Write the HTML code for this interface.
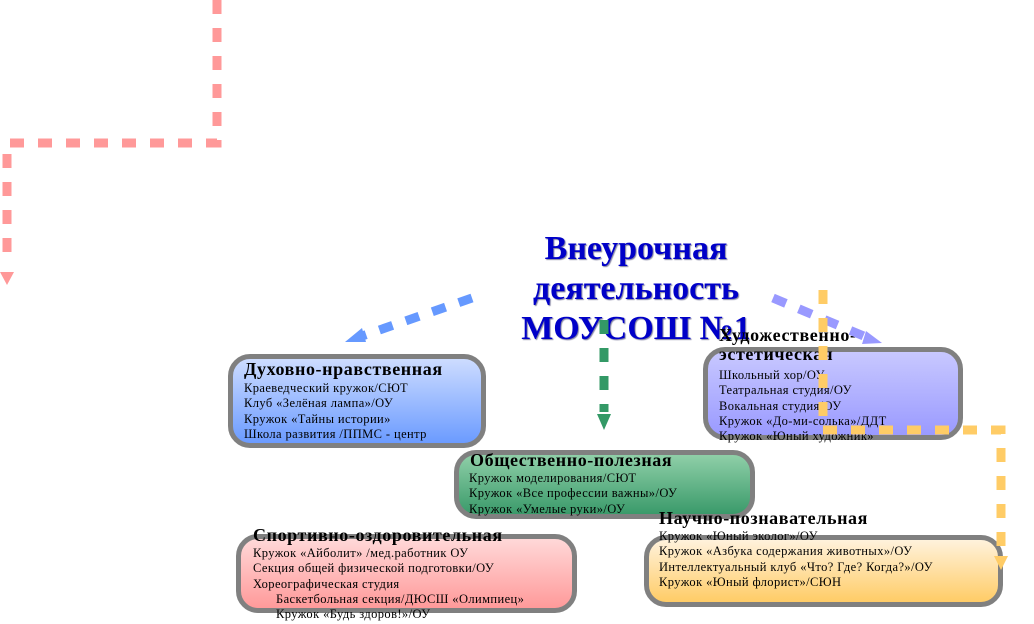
<!DOCTYPE html>
<html><head><meta charset="utf-8"><style>
body{margin:0;width:1034px;height:624px;background:#fff;position:relative;overflow:hidden;font-family:"Liberation Serif","DejaVu Serif",serif;}
.box{position:absolute;border:5px solid #808080;border-radius:22px;box-sizing:border-box;}
.t{position:absolute;white-space:nowrap;color:#000;}
.h{font-weight:bold;font-size:18px;letter-spacing:0.6px;}
.i{font-size:12.5px;line-height:15.3px;letter-spacing:0.4px;}
.title{position:absolute;left:436px;width:400px;text-align:center;color:#0000c8;font-weight:bold;font-size:34px;line-height:40px;top:229px;text-shadow:1px 1px 1px #8080a0;}
svg{position:absolute;left:0;top:0;}
</style></head><body>
<div class="box" style="left:228px;top:354px;width:258px;height:94px;background:linear-gradient(#cddcff,#6b9bff);"></div>
<div class="box" style="left:703px;top:347px;width:260px;height:93px;background:linear-gradient(#c8c8ff,#9a9aff);"></div>
<div class="box" style="left:454px;top:450px;width:301px;height:69px;background:linear-gradient(#8fcfa8,#3a9a6a);"></div>
<div class="box" style="left:236px;top:534px;width:341px;height:79px;background:linear-gradient(#ffd8d8,#ff9a9a);"></div>
<div class="box" style="left:644px;top:535px;width:359px;height:72px;background:linear-gradient(#fff2dc,#ffcc66);"></div>

<div class="title">Внеурочная<br>деятельность<br>МОУСОШ №1</div>

<div class="t h" style="left:244px;top:359px;">Духовно-нравственная</div>
<div class="t i" style="left:244px;top:381px;">Краеведческий кружок/СЮТ<br>Клуб «Зелёная лампа»/ОУ<br>Кружок «Тайны истории»<br>Школа развития /ППМС - центр</div>

<div class="t h" style="left:719px;top:326px;line-height:19px;">Художественно-<br>эстетическая</div>
<div class="t i" style="left:719px;top:368px;">Школьный хор/ОУ<br>Театральная студия/ОУ<br>Вокальная студия/ОУ<br>Кружок «До-ми-солька»/ДДТ<br>Кружок «Юный художник»</div>

<div class="t h" style="left:470px;top:450px;">Общественно-полезная</div>
<div class="t i" style="left:469px;top:471px;">Кружок моделирования/СЮТ<br>Кружок «Все профессии важны»/ОУ<br>Кружок «Умелые руки»/ОУ</div>

<div class="t h" style="left:253px;top:525px;">Спортивно-оздоровительная</div>
<div class="t i" style="left:253px;top:546px;">Кружок «Айболит» /мед.работник ОУ<br>Секция общей физической подготовки/ОУ<br>Хореографическая студия<br><span style="padding-left:23px">Баскетбольная секция/ДЮСШ «Олимпиец»</span><br><span style="padding-left:23px">Кружок «Будь здоров!»/ОУ</span></div>

<div class="t h" style="left:659px;top:508px;">Научно-познавательная</div>
<div class="t i" style="left:659px;top:529px;">Кружок «Юный эколог»/ОУ<br>Кружок «Азбука содержания животных»/ОУ<br>Интеллектуальный клуб «Что? Где? Когда?»/ОУ<br>Кружок «Юный флорист»/СЮН</div>

<svg width="1034" height="624">
<g fill="none" stroke-width="9" stroke-dasharray="14 14">
<polyline points="217,0 217,143 7,143 7,262" stroke="#ff9999"/>
<line x1="472" y1="298" x2="362" y2="336" stroke="#6699ff"/>
<line x1="773" y1="298" x2="866" y2="337" stroke="#9999ff"/>
<line x1="604" y1="320" x2="604" y2="412" stroke="#339966"/>
<polyline points="823,290 823,430 1001,430 1001,556" stroke="#ffcc66"/>
</g>
<polygon points="0,272 14,272 7,285" fill="#ff9999"/>
<polygon points="345,342 362,328 366,342" fill="#6699ff"/>
<polygon points="882,343 866,331 862,344" fill="#9999ff"/>
<polygon points="597,414 611,414 604,430" fill="#339966"/>
<polygon points="994,556 1008,556 1001,570" fill="#ffcc66"/>
</svg>
</body></html>
